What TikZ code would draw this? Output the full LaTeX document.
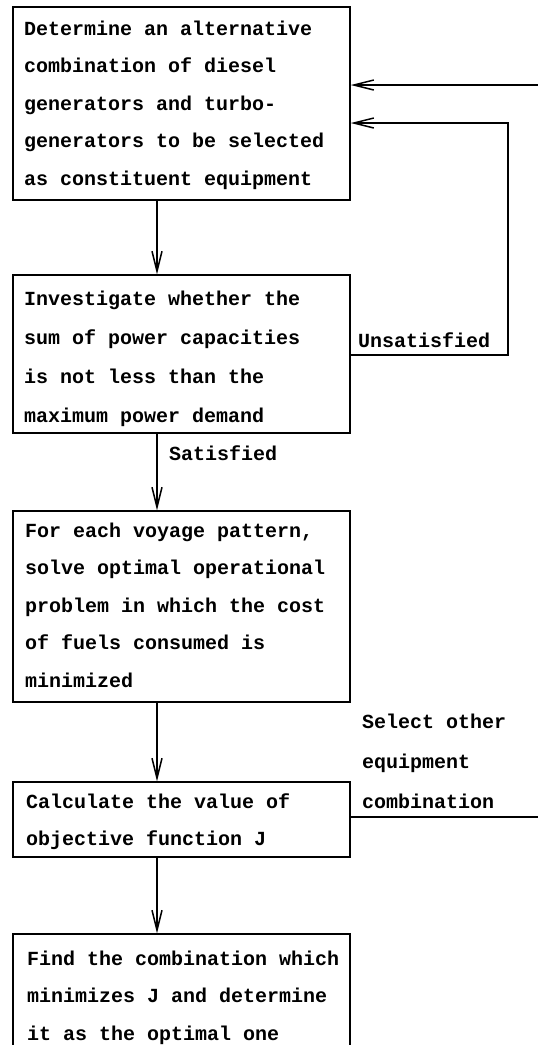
\documentclass[tikz,border=0pt]{standalone}
\usepackage{fontspec}
\newfontfamily\flowfont{Liberation Mono}
\usetikzlibrary{arrows.meta,calc}

\tikzset{
  x=1pt, y=-1pt,
  stepbox/.style={draw, rectangle, line width=1.5pt, inner sep=0pt,
    minimum width=337pt},
  steptext/.style={anchor=base west, inner sep=0pt, align=left,
    font=\flowfont\bfseries\fontsize{20}{37.5}\selectfont},
  flowlabel/.style={anchor=base west, inner sep=0pt,
    font=\flowfont\bfseries\fontsize{20}{40}\selectfont},
  link/.style={line width=1.5pt},
  arr/.style={link, -{Straight Barb[length=20pt,width=10pt,line width=1.5pt]}}
}

\newcommand{\lines}[2][37.5pt]{\parbox[t]{330pt}{\baselineskip=#1\relax\raggedright #2}}

\begin{document}
\begin{tikzpicture}
  \useasboundingbox (0,0) rectangle (538,1045);
  \clip (0,0) rectangle (538,1045);
  \fill[white] (0,0) rectangle (538,1045);

  % process boxes
  \node[stepbox, minimum height=193pt] (b1) at (181.5,103.5) {};
  \node[stepbox, minimum height=158pt] (b2) at (181.5,354) {};
  \node[stepbox, minimum height=191pt] (b3) at (181.5,606.5) {};
  \node[stepbox, minimum height=75pt]  (b4) at (181.5,819.5) {};
  \node[stepbox, minimum height=166pt] (b5) at (181.5,1017) {};

  % box texts
  \node[steptext] (t1) at (24,35) {\lines{Determine an alternative\\
    combination of diesel\\ generators and turbo-\\
    generators to be selected\\ as constituent equipment}};
  \node[steptext] (t2) at (24,305) {\lines[39pt]{Investigate whether the\\
    sum of power capacities\\ is not less than the\\
    maximum power demand}};
  \node[steptext] (t3) at (25,537) {\lines[37.5pt]{For each voyage pattern,\\
    solve optimal operational\\ problem in which the cost\\
    of fuels consumed is\\ minimized}};
  \node[steptext] (t4) at (26,808) {\lines[37pt]{Calculate the value of\\
    objective function J}};
  \node[steptext] (t5) at (27,965) {\lines[37.5pt]{Find the combination which\\
    minimizes J and determine\\ it as the optimal one}};

  % main flow
  \coordinate (axis) at (157,0);
  \draw[arr] (b1.south -| axis) -- (b2.north -| axis);
  \draw[arr] (b2.south -| axis) -- (b3.north -| axis);
  \draw[arr] (b3.south -| axis) -- (b4.north -| axis);
  \draw[arr] (b4.south -| axis) -- (b5.north -| axis);

  \node[flowlabel] (sat) at (169,460) {Satisfied};

  % feedback when the capacity check fails
  \coordinate (loopA) at (508,355);
  \coordinate (inA) at ($(b1.east)+(0,19.5)$);
  \draw[arr] (b2.east |- loopA) -- (loopA) |- (inA);
  \node[flowlabel] (unsat) at (358,347) {Unsatisfied};

  % feedback for the next equipment combination
  \coordinate (edgeB) at (538,817);
  \coordinate (edgeA) at (538,85);
  \draw[link] (b4.east |- edgeB) -- (edgeB);
  \draw[arr] (edgeA) -- (b1.east |- edgeA);
  \node[flowlabel] (sel) at (362,728) {\parbox[t]{170pt}{\baselineskip=40pt
    Select other\\ equipment\\ combination}};
\end{tikzpicture}
\end{document}
